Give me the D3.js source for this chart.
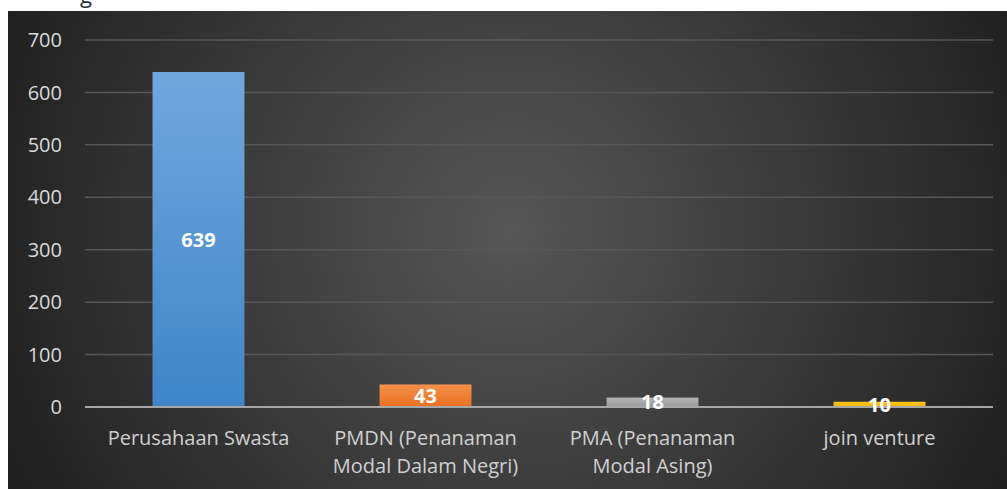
<!DOCTYPE html>
<html>
<head>
<meta charset="utf-8">
<script src="https://cdn.jsdelivr.net/npm/d3@7"></script>
<style>
  html, body { margin: 0; padding: 0; background: #fff; }
  svg { display: block; }
</style>
</head>
<body>
<svg id="chart" width="1007" height="489"></svg>
<script>
const categories = ["Perusahaan Swasta", "PMDN (Penanaman Modal Dalam Negri)", "PMA (Penanaman Modal Asing)", "join venture"];
const categoryLines = [["Perusahaan Swasta"], ["PMDN (Penanaman", "Modal Dalam Negri)"], ["PMA (Penanaman", "Modal Asing)"], ["join venture"]];
const values = [639, 43, 18, 10];
const yTicks = [0, 100, 200, 300, 400, 500, 600, 700];
const barColors = [["#71a7dd", "#3f85c8"], ["#f4914c", "#e8701f"], ["#b3b3b3", "#9c9c9c"], ["#ffc623", "#f2b600"]];

const svg = d3.select("#chart"),
      width = +svg.attr("width"),
      height = +svg.attr("height");

const margin = {top: 40, right: 14, bottom: 82, left: 85};

const defs = svg.append("defs");
const bg = defs.append("radialGradient")
    .attr("id", "bg")
    .attr("gradientUnits", "userSpaceOnUse")
    .attr("cx", 510).attr("cy", 230).attr("r", 560);
bg.append("stop").attr("offset", "0%").attr("stop-color", "#565656");
bg.append("stop").attr("offset", "100%").attr("stop-color", "#1f1f1f");

barColors.forEach((c, i) => {
    const lg = defs.append("linearGradient")
        .attr("id", "bar" + i)
        .attr("x1", 0).attr("y1", 0).attr("x2", 0).attr("y2", 1);
    lg.append("stop").attr("offset", "0%").attr("stop-color", c[0]);
    lg.append("stop").attr("offset", "100%").attr("stop-color", c[1]);
});

// chart area (image is cropped: white strip at top and left)
svg.append("rect")
    .attr("x", 8).attr("y", 11)
    .attr("width", width - 8).attr("height", height - 11)
    .attr("fill", "url(#bg)");

// cut-off title descender
svg.append("text")
    .attr("x", 80).attr("y", 3)
    .style("font-family", "'Open Sans', sans-serif")
    .style("font-size", "22px")
    .style("fill", "#243040")
    .text("g");

const x = d3.scaleBand()
    .domain(categories)
    .range([margin.left, width - margin.right])
    .paddingInner(0.595)
    .paddingOuter(0.2975);

const y = d3.scaleLinear()
    .domain([0, 700])
    .range([height - margin.bottom, margin.top]);

// gridlines
svg.append("g")
    .selectAll("line")
    .data(yTicks.filter(d => d > 0))
    .join("line")
    .attr("x1", margin.left)
    .attr("x2", width - margin.right)
    .attr("y1", d => y(d))
    .attr("y2", d => y(d))
    .attr("stroke", "#575757")
    .attr("stroke-width", 1.5);

// y labels
svg.append("g")
    .selectAll("text")
    .data(yTicks)
    .join("text")
    .attr("x", 62)
    .attr("y", d => y(d))
    .attr("dy", "0.36em")
    .attr("text-anchor", "end")
    .style("font-family", "'Open Sans', sans-serif")
    .style("font-size", "20px")
    .style("fill", "#d9d9d9")
    .text(d => d);

// bars
svg.append("g")
    .selectAll("rect")
    .data(values)
    .join("rect")
    .attr("x", (d, i) => x(categories[i]))
    .attr("width", x.bandwidth())
    .attr("y", d => y(d))
    .attr("height", d => y(0) - y(d))
    .attr("fill", (d, i) => `url(#bar${i})`);

// axis line
svg.append("line")
    .attr("x1", margin.left)
    .attr("x2", width - margin.right)
    .attr("y1", y(0))
    .attr("y2", y(0))
    .attr("stroke", "#a6a6a6")
    .attr("stroke-width", 2);

// value labels
svg.append("g")
    .selectAll("text")
    .data(values)
    .join("text")
    .attr("x", (d, i) => x(categories[i]) + x.bandwidth() / 2)
    .attr("y", d => (y(d) + y(0)) / 2)
    .attr("dy", "0.36em")
    .attr("text-anchor", "middle")
    .style("font-family", "'Open Sans', sans-serif")
    .style("font-weight", "bold")
    .style("font-size", "20px")
    .style("fill", "#ffffff")
    .text(d => d);

// category labels
const cat = svg.append("g")
    .selectAll("text")
    .data(categoryLines)
    .join("text")
    .attr("x", (d, i) => x(categories[i]) + x.bandwidth() / 2)
    .attr("y", 445)
    .attr("text-anchor", "middle")
    .style("font-family", "'Open Sans', sans-serif")
    .style("font-size", "20px")
    .style("fill", "#d0d0d0");

cat.selectAll("tspan")
    .data(d => d)
    .join("tspan")
    .attr("x", function() { return d3.select(this.parentNode).attr("x"); })
    .attr("dy", (d, i) => i === 0 ? 0 : 28)
    .text(d => d);
</script>
</body>
</html>
